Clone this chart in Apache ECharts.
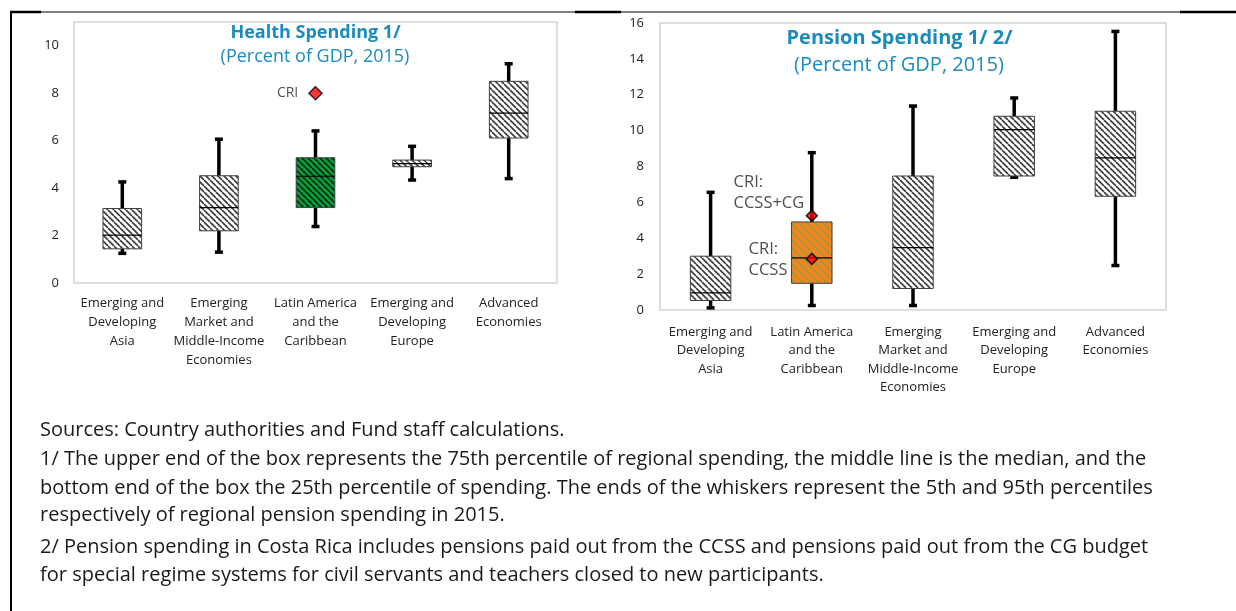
<!DOCTYPE html>
<html>
<head>
<meta charset="utf-8">
<title>Health and Pension Spending</title>
<script src="https://cdn.jsdelivr.net/npm/echarts@6/dist/echarts.min.js"></script>
<style>
    html, body { margin: 0; padding: 0; background: #fff; }
    #chart { width: 1236px; height: 611px; }
</style>
</head>
<body>
<div id="chart"></div>
<script>
    // health spending, percent of GDP 2015: [p5, p25, median, p75, p95]
    var healthCats = ['Emerging and\nDeveloping\nAsia', 'Emerging\nMarket and\nMiddle-Income\nEconomies',
        'Latin America\nand the\nCaribbean', 'Emerging and\nDeveloping\nEurope', 'Advanced\nEconomies'];
    var healthBox = [
        [1.25, 1.44, 2.02, 3.14, 4.26],
        [1.30, 2.20, 3.18, 4.52, 6.06],
        [2.38, 3.18, 4.50, 5.28, 6.41],
        [4.34, 4.90, 5.03, 5.18, 5.76],
        [4.40, 6.11, 7.16, 8.50, 9.24]
    ];
    var healthCri = 8.0;
    var healthYTicks = [0, 2, 4, 6, 8, 10];

    // pension spending
    var pensionCats = ['Emerging and\nDeveloping\nAsia', 'Latin America\nand the\nCaribbean',
        'Emerging\nMarket and\nMiddle-Income\nEconomies', 'Emerging and\nDeveloping\nEurope', 'Advanced\nEconomies'];
    var pensionBox = [
        [0.12, 0.53, 0.96, 3.00, 6.56],
        [0.25, 1.49, 2.91, 4.91, 8.77],
        [0.25, 1.20, 3.48, 7.47, 11.37],
        [7.40, 7.47, 10.06, 10.80, 11.82],
        [2.48, 6.34, 8.48, 11.08, 15.53]
    ];
    var pensionCriTotal = 5.26;   // CCSS + CG
    var pensionCriCcss = 2.85;
    var pensionYTicks = [0, 2, 4, 6, 8, 10, 12, 14, 16];

    var footnotes = [
        'Sources: Country authorities and Fund staff calculations.',
        '1/ The upper end of the box represents the 75th percentile of regional spending, the middle line is the median, and the',
        'bottom end of the box the 25th percentile of spending. The ends of the whiskers represent the 5th and 95th percentiles',
        'respectively of regional pension spending in 2015.',
        '2/ Pension spending in Costa Rica includes pensions paid out from the CCSS and pensions paid out from the CG budget',
        'for special regime systems for civil servants and teachers closed to new participants.'
    ];
    var footY = [430, 459, 488, 515, 547, 575];

    function hatch(bg, fg, step, lw) {
        var c = document.createElement('canvas');
        c.width = step; c.height = step;
        var ctx = c.getContext('2d');
        ctx.fillStyle = bg;
        ctx.fillRect(0, 0, step, step);
        ctx.strokeStyle = fg;
        ctx.lineWidth = lw;
        ctx.beginPath();
        for (var k = -1; k <= 1; k++) {
            ctx.moveTo(k * step, 0);
            ctx.lineTo(k * step + step, step);
        }
        ctx.stroke();
        return { image: c, repeat: 'repeat' };
    }
    var grayFill = hatch('#ffffff', '#3a3a3a', 6, 1.6);
    var greenFill = hatch('#07a03c', '#0a2a12', 6, 1.8);
    var orangeFill = hatch('#f5841f', '#6aa84f', 8, 1.1);

    function boxRows(rows) {
        return rows.map(function (r, i) { return [i].concat(r); });
    }

    function makeRender(special, fill) {
        return function (params, api) {
            var i = api.value(0);
            var lo = api.coord([i, api.value(1)]);
            var q1 = api.coord([i, api.value(2)]);
            var med = api.coord([i, api.value(3)]);
            var q3 = api.coord([i, api.value(4)]);
            var hi = api.coord([i, api.value(5)]);
            var bw = api.size([1, 0])[0] * 0.4;
            var cx = lo[0];
            var wl = { stroke: '#000', lineWidth: 3.5 };
            return {
                type: 'group',
                children: [
                    { type: 'line', shape: { x1: cx, y1: hi[1], x2: cx, y2: q3[1] }, style: wl },
                    { type: 'line', shape: { x1: cx, y1: q1[1], x2: cx, y2: lo[1] }, style: wl },
                    { type: 'line', shape: { x1: cx - 4, y1: hi[1], x2: cx + 4, y2: hi[1] }, style: wl },
                    { type: 'line', shape: { x1: cx - 4, y1: lo[1], x2: cx + 4, y2: lo[1] }, style: wl },
                    {
                        type: 'rect',
                        shape: { x: cx - bw / 2, y: q3[1], width: bw, height: q1[1] - q3[1] },
                        style: { fill: i === special ? fill : grayFill, stroke: '#404040', lineWidth: 1 }
                    },
                    {
                        type: 'line',
                        shape: { x1: cx - bw / 2, y1: med[1], x2: cx + bw / 2, y2: med[1] },
                        style: { stroke: '#000', lineWidth: 1.2 }
                    }
                ]
            };
        };
    }

    function yLabelFmt(ticks) {
        return function (v) { return ticks.indexOf(v) >= 0 ? String(v) : ''; };
    }

    var font = '"Open Sans", sans-serif';
    var titleColor = '#1b8bbc';
    var lines = [];
    footnotes.forEach(function (t, k) {
        lines.push({
            type: 'text', x: 40, y: footY[k],
            style: { text: t, fill: '#1a1a1a', font: '20px ' + font, textVerticalAlign: 'middle' }
        });
    });

    var chart = echarts.init(document.getElementById('chart'));
    var option = {
        animation: false,
        textStyle: { fontFamily: font },
        grid: [
            { left: 74, top: 22, width: 483, height: 261, show: true, borderColor: '#d4d4d4', borderWidth: 1.5 },
            { left: 660, top: 23, width: 506, height: 287, show: true, borderColor: '#d4d4d4', borderWidth: 1.5 }
        ],
        xAxis: [
            {
                type: 'category', gridIndex: 0, data: healthCats,
                axisLine: { show: false }, axisTick: { show: false },
                axisLabel: { interval: 0, margin: 11, fontSize: 13, lineHeight: 19, color: '#222' }
            },
            {
                type: 'category', gridIndex: 1, data: pensionCats,
                axisLine: { show: false }, axisTick: { show: false },
                axisLabel: { interval: 0, margin: 13, fontSize: 13, lineHeight: 18.5, color: '#222' }
            }
        ],
        yAxis: [
            {
                type: 'value', gridIndex: 0, min: 0, max: 11, interval: 2,
                axisLine: { show: false }, axisTick: { show: false }, splitLine: { show: false },
                axisLabel: { margin: 15, fontSize: 13, color: '#222', formatter: yLabelFmt(healthYTicks) }
            },
            {
                type: 'value', gridIndex: 1, min: 0, max: 16, interval: 2,
                axisLine: { show: false }, axisTick: { show: false }, splitLine: { show: false },
                axisLabel: { margin: 16, fontSize: 13, color: '#222', formatter: yLabelFmt(pensionYTicks) }
            }
        ],
        series: [
            {
                type: 'custom', xAxisIndex: 0, yAxisIndex: 0,
                renderItem: makeRender(2, greenFill),
                encode: { x: 0, y: [1, 2, 3, 4, 5] },
                data: boxRows(healthBox)
            },
            {
                type: 'custom', xAxisIndex: 1, yAxisIndex: 1,
                renderItem: makeRender(1, orangeFill),
                encode: { x: 0, y: [1, 2, 3, 4, 5] },
                data: boxRows(pensionBox)
            },
            {
                type: 'scatter', xAxisIndex: 0, yAxisIndex: 0,
                symbol: 'diamond', symbolSize: 13, z: 5,
                itemStyle: { color: '#ff0000', borderColor: '#000', borderWidth: 1.5 },
                label: { show: true, position: 'left', distance: 10, formatter: 'CRI', fontSize: 14, color: '#222' },
                data: [[2, healthCri]]
            },
            {
                type: 'scatter', xAxisIndex: 1, yAxisIndex: 1,
                symbol: 'diamond', symbolSize: 11, z: 5,
                itemStyle: { color: '#ff0000', borderColor: '#000', borderWidth: 1.5 },
                label: { show: true, fontSize: 16.5, lineHeight: 21, color: '#222', align: 'left', verticalAlign: 'middle' },
                data: [
                    { value: [1, pensionCriTotal], label: { formatter: 'CRI:\nCCSS+CG', position: [-72, -17] } },
                    { value: [1, pensionCriCcss], label: { formatter: 'CRI:\nCCSS', position: [-57, 7] } }
                ]
            }
        ],
        graphic: [
            { type: 'line', shape: { x1: 11, y1: 11, x2: 11, y2: 611 }, style: { stroke: '#000', lineWidth: 2 } },
            { type: 'line', shape: { x1: 10, y1: 12, x2: 1236, y2: 12 }, style: { stroke: '#000', lineWidth: 1 } },
            { type: 'line', shape: { x1: 10, y1: 12, x2: 41, y2: 12 }, style: { stroke: '#000', lineWidth: 2.5 } },
            { type: 'line', shape: { x1: 575, y1: 12, x2: 621, y2: 12 }, style: { stroke: '#000', lineWidth: 2.5 } },
            { type: 'line', shape: { x1: 1180, y1: 12, x2: 1236, y2: 12 }, style: { stroke: '#000', lineWidth: 2.5 } },
            {
                type: 'text', x: 315.5, y: 33,
                style: { text: 'Health Spending 1/', fill: titleColor, font: 'bold 18px ' + font, textAlign: 'center', textVerticalAlign: 'middle' }
            },
            {
                type: 'text', x: 315, y: 57,
                style: { text: '(Percent of GDP, 2015)', fill: titleColor, font: '18px ' + font, textAlign: 'center', textVerticalAlign: 'middle' }
            },
            {
                type: 'text', x: 899.5, y: 38,
                style: { text: 'Pension Spending 1/ 2/', fill: titleColor, font: 'bold 20px ' + font, textAlign: 'center', textVerticalAlign: 'middle' }
            },
            {
                type: 'text', x: 899, y: 65,
                style: { text: '(Percent of GDP, 2015)', fill: titleColor, font: '20px ' + font, textAlign: 'center', textVerticalAlign: 'middle' }
            }
        ].concat(lines)
    };
    chart.setOption(option);
</script>
</body>
</html>
